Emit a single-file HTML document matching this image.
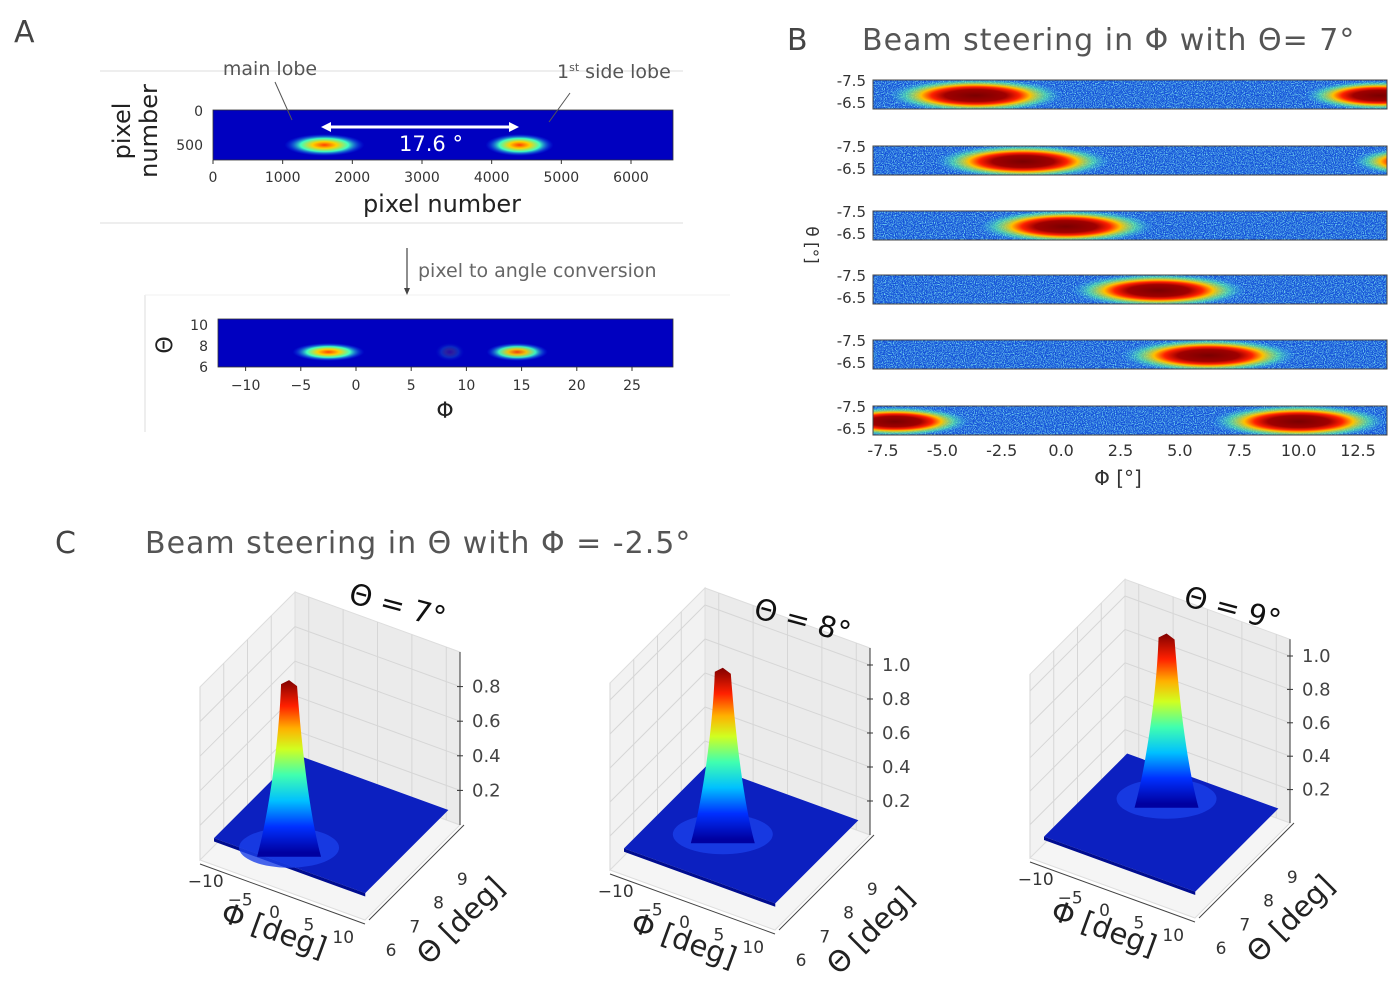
<!DOCTYPE html>
<html><head><meta charset="utf-8">
<style>
html,body{margin:0;padding:0;background:#fff;}
svg{display:block;font-family:"DejaVu Sans","Liberation Sans",sans-serif;}
</style></head>
<body>
<svg id="fig" width="1400" height="992" viewBox="0 0 1400 992" xmlns="http://www.w3.org/2000/svg">
<defs>
  <filter id="noise" x="0" y="0" width="100%" height="100%">
    <feTurbulence type="fractalNoise" baseFrequency="0.9" numOctaves="2" seed="4"/>
    <feColorMatrix values="0 0 0 0 0.25  0 0 0 0 0.9  0 0 0 0 0.9  3 0 0 0 -1.3"/>
  </filter>
  <radialGradient id="spot">
    <stop offset="0" stop-color="#7a0000"/>
    <stop offset="0.35" stop-color="#a00000"/>
    <stop offset="0.5" stop-color="#ff2000"/>
    <stop offset="0.62" stop-color="#ffc000"/>
    <stop offset="0.8" stop-color="#60ffa0" stop-opacity="0.6"/>
    <stop offset="1" stop-color="#30b0ff" stop-opacity="0"/>
  </radialGradient>
  <radialGradient id="spotA">
    <stop offset="0" stop-color="#ff4000"/>
    <stop offset="0.3" stop-color="#ffd000"/>
    <stop offset="0.6" stop-color="#40ffc0"/>
    <stop offset="1" stop-color="#0040ff" stop-opacity="0"/>
  </radialGradient>
  <marker id="ah" markerUnits="userSpaceOnUse" markerWidth="10" markerHeight="10" refX="5" refY="5" orient="auto-start-reverse"><path d="M0,0 L10,5 L0,10 z" fill="#fff"/></marker>
  <marker id="ahg" markerUnits="userSpaceOnUse" markerWidth="8" markerHeight="8" refX="4" refY="4" orient="auto"><path d="M0,1 L7,4 L0,7 z" fill="#444"/></marker>
</defs>
<g id="panelA"></g>
<g id="panelB"></g>
<g id="panelC"></g>
</svg>
<script>
// ---- Panel A data ----
const pixTicks = [0,1000,2000,3000,4000,5000,6000];
const lobePixels = [1600,4400];
const lobeIntensity = [1.0, 0.85];
const phiTicksA = [-10,-5,0,5,10,15,20,25];
const thetaTicksA = [10,8,6];
const lobePhi = [-2.5, 14.6, 8.5];
const lobePhiIntensity = [1.0, 0.85, 0.15];
// ---- Panel B data ----
const stripMainPhi = [-3.6, -1.6, 0.2, 4.1, 6.2, 10.0];
const sideLobeSpacing = 17.0;
const phiTicksB = [-7.5,-5.0,-2.5,0.0,2.5,5.0,7.5,10.0,12.5];
// ---- Panel C data ----
const plotTheta = [7, 8, 9];
const plotPeak = [1.04, 1.05, 1.06];
const peakPhi = [-2.5, -2.5, -2.5];
const zTicks1 = [0.2,0.4,0.6,0.8];
const zTicks23 = [0.2,0.4,0.6,0.8,1.0];
const phiTicksC = [-10,-5,0,5,10];
const thetaTicksC = [6,7,8,9];

const NS='http://www.w3.org/2000/svg';
function el(parent, tag, attrs, text){
  const e=document.createElementNS(NS,tag);
  for(const k in attrs) e.setAttribute(k,attrs[k]);
  if(text!==undefined) e.textContent=text;
  parent.appendChild(e); return e;
}
const A=document.getElementById('panelA'), B=document.getElementById('panelB'), C=document.getElementById('panelC');

// ================= Panel A =================
let t=el(A,'text',{x:14,y:42,'font-size':30,fill:'#444'},'A');


el(A,'line',{x1:100,y1:71,x2:683,y2:71,stroke:'#ddd'});
el(A,'line',{x1:100,y1:223,x2:683,y2:223,stroke:'#ddd'});
el(A,'line',{x1:145,y1:295,x2:145,y2:432,stroke:'#ddd'});
el(A,'line',{x1:145,y1:295,x2:730,y2:295,stroke:'#f0f0f0'});
const pxX = p => 213 + p*(631-213)/6000;
let hm=el(A,'g',{});


el(hm,'rect',{x:213,y:110,width:460,height:50,fill:'#0000c0'});
lobePixels.forEach((p,i)=>{
  const s=el(hm,'ellipse',{cx:pxX(p),cy:145,rx:40*lobeIntensity[i],ry:11,fill:'url(#spotA)'});
  
  
});
el(hm,'rect',{x:213,y:110,width:460,height:50,fill:'none',stroke:'#333','stroke-width':0.8});
pixTicks.forEach(v=>{
  el(A,'line',{x1:pxX(v),y1:160,x2:pxX(v),y2:164,stroke:'#333'});
  const tt=el(A,'text',{x:pxX(v),y:182,'text-anchor':'middle','font-size':14,fill:'#333'},String(v));
  
  
});
el(A,'text',{x:203,y:116,'text-anchor':'end','font-size':14,fill:'#333'},'0');
el(A,'text',{x:203,y:150,'text-anchor':'end','font-size':14,fill:'#333'},'500');
let yl=el(A,'text',{transform:'translate(130,131) rotate(-90)','text-anchor':'middle','font-size':24,fill:'#222'});


el(yl,'tspan',{x:0,y:0},'pixel');
el(yl,'tspan',{x:0,y:27},'number');
let xl=el(A,'text',{x:442,y:212,'text-anchor':'middle','font-size':24,fill:'#222'},'pixel number');


el(A,'line',{x1:326,y1:127,x2:514,y2:127,stroke:'#fff','stroke-width':3,'marker-start':'url(#ah)','marker-end':'url(#ah)'});
el(A,'text',{x:431,y:151,'text-anchor':'middle','font-size':21,fill:'#fff'},'17.6 °');
el(A,'text',{x:270,y:75,'text-anchor':'middle','font-size':19,fill:'#555'},'main lobe');
el(A,'line',{x1:275,y1:82,x2:292,y2:120,stroke:'#555'});
let sl=el(A,'text',{x:557,y:78,'font-size':19,fill:'#555'});
el(sl,'tspan',{},'1');
el(sl,'tspan',{'font-size':11,dy:-7},'st');
el(sl,'tspan',{dy:7},' side lobe');
el(A,'line',{x1:570,y1:93,x2:549,y2:122,stroke:'#555'});
el(A,'line',{x1:407,y1:248,x2:407,y2:292,stroke:'#444','stroke-width':1.2,'marker-end':'url(#ahg)'});
el(A,'text',{x:418,y:277,'font-size':19,fill:'#666'},'pixel to angle conversion');
const phA = p => 356 + p*(632-356)/25;
let hm2=el(A,'g',{});


el(hm2,'rect',{x:218,y:319,width:455,height:48,fill:'#0000c0'});
lobePhi.forEach((p,i)=>{
  const s=el(hm2,'ellipse',{cx:phA(p),cy:352,rx:36*Math.max(lobePhiIntensity[i],0.4),ry:9,fill:'url(#spotA)',opacity:Math.min(1,lobePhiIntensity[i]*1.1)});
  
  
});
el(hm2,'rect',{x:218,y:319,width:455,height:48,fill:'none',stroke:'#333','stroke-width':0.8});
phiTicksA.forEach(v=>{
  el(A,'line',{x1:phA(v),y1:367,x2:phA(v),y2:371,stroke:'#333'});
  const tt=el(A,'text',{x:phA(v),y:390,'text-anchor':'middle','font-size':14,fill:'#333'},v<0?'\u2212'+(-v):String(v));
  
  
});
thetaTicksA.forEach((v,i)=>{
  el(A,'text',{x:208,y:330+i*21,'text-anchor':'end','font-size':14,fill:'#333'},String(v));
});
el(A,'text',{x:165,y:352,'text-anchor':'middle','font-size':22,fill:'#222',transform:'rotate(-90 165 345)'},'Θ');
el(A,'text',{x:445,y:418,'text-anchor':'middle','font-size':22,fill:'#222'},'Φ');

// ================= Panel B =================
el(B,'text',{x:787,y:50,'font-size':30,fill:'#444'},'B');
let bt=el(B,'text',{x:862,y:50,'font-size':30,fill:'#555','letter-spacing':1},'Beam steering in Φ with Θ= 7°');


const bx0=873,bx1=1387;
const phB = p => 883 + (p+7.5)*(1358-883)/20;
const stripTops=[80,146,211,275,340,406];
stripMainPhi.forEach((p,i)=>{
  const y=stripTops[i], h=29;
  const g=el(B,'g',{});
  
  
  const cp=el(g,'clipPath',{id:'cs'+i});
  el(cp,'rect',{x:bx0,y:y,width:bx1-bx0,height:h});
  const inner=el(g,'g',{'clip-path':'url(#cs'+i+')'});
  el(inner,'rect',{x:bx0,y:y,width:bx1-bx0,height:h,fill:'#1450d8'});
  el(inner,'rect',{x:bx0,y:y,width:bx1-bx0,height:h,filter:'url(#noise)',opacity:0.9});
  [p, p-sideLobeSpacing, p+sideLobeSpacing].forEach((c,j)=>{
    const s=el(inner,'ellipse',{cx:phB(c),cy:y+h/2+1,rx:j===0?88:75,ry:j===0?17:15,fill:'url(#spot)'});
    
    
  });
  el(g,'rect',{x:bx0,y:y,width:bx1-bx0,height:h,fill:'none',stroke:'#444','stroke-width':1});
  el(B,'text',{x:866,y:y+6,'text-anchor':'end','font-size':15,fill:'#333'},'-7.5');
  el(B,'text',{x:866,y:y+28,'text-anchor':'end','font-size':15,fill:'#333'},'-6.5');
});
phiTicksB.forEach(v=>{
  const tt=el(B,'text',{x:phB(v),y:456,'text-anchor':'middle','font-size':16,fill:'#333'},v.toFixed(1));
  
  
});
el(B,'text',{x:1118,y:485,'text-anchor':'middle','font-size':20,fill:'#333'},'Φ [°]');
el(B,'text',{x:0,y:0,'text-anchor':'middle','font-size':17,fill:'#333',transform:'translate(806,245) rotate(90)'},'θ [°]');

// ================= Panel C =================
el(C,'text',{x:55,y:553,'font-size':30,fill:'#444'},'C');
let ct=el(C,'text',{x:145,y:553,'font-size':30,fill:'#555','letter-spacing':1},'Beam steering in Θ with Φ = -2.5°');


const jet=[[0,'#0000a0'],[0.15,'#0030ff'],[0.3,'#00c0ff'],[0.45,'#40ffb0'],[0.6,'#d0ff20'],[0.72,'#ffb000'],[0.85,'#ff2000'],[1,'#800000']];
const origins=[[200,860],[610,870],[1030,858]];
const titlesPos=[[395,615],[800,630],[1230,618]];
const zScale=[173,170,167];
for(let k=0;k<3;k++){
  const [ox,oy]=origins[k];
  const zs=zScale[k];
  const P=(p,th,z)=>[ox+(p+12)*6.875+(th-6)*23.75, oy+(p+12)*2.5-(th-6)*23.75 - z*zs];
  const g=el(C,'g',{});
  
  
  const poly=(pts,attrs)=>el(g,'polygon',Object.assign({points:pts.map(q=>q.join(',')).join(' ')},attrs));
  const zmax=k===0?1.0:1.1;
  poly([P(-12,6,0),P(-12,10,0),P(-12,10,zmax),P(-12,6,zmax)],{fill:'#f2f2f2',stroke:'#ddd'});
  poly([P(-12,10,0),P(12,10,0),P(12,10,zmax),P(-12,10,zmax)],{fill:'#ebebeb',stroke:'#ddd'});
  poly([P(-12,6,0),P(12,6,0),P(12,10,0),P(-12,10,0)],{fill:'#f5f5f5',stroke:'#ddd'});
  for(let z=0.2;z<zmax;z+=0.2){
    el(g,'polyline',{points:[P(-12,6,z),P(-12,10,z),P(12,10,z)].map(q=>q.join(',')).join(' '),fill:'none',stroke:'#d6d6d6'});
  }
  phiTicksC.forEach(v=>{const a=P(v,10,0),b=P(v,10,zmax);el(g,'line',{x1:a[0],y1:a[1],x2:b[0],y2:b[1],stroke:'#d6d6d6'});});
  thetaTicksC.forEach(v=>{const a=P(-12,v,0),b=P(-12,v,zmax);el(g,'line',{x1:a[0],y1:a[1],x2:b[0],y2:b[1],stroke:'#d6d6d6'});});
  const fl=poly([P(-11,6.3,0.1),P(11,6.3,0.1),P(11,9.8,0.1),P(-11,9.8,0.1)],{fill:'#0c20c0'});
  
  
  poly([P(-11,6.3,0.1),P(11,6.3,0.1),P(11,6.3,0.08),P(-11,6.3,0.08)],{fill:'#000c90'});
  const base=P(peakPhi[k],plotTheta[k],0.1), top=P(peakPhi[k],plotTheta[k],plotPeak[k]);
  const gid='jet'+k;
  const lg=el(g,'linearGradient',{id:gid,gradientUnits:'userSpaceOnUse',x1:0,y1:base[1]+10,x2:0,y2:top[1]});
  jet.forEach(s=>el(lg,'stop',{offset:s[0],'stop-color':s[1]}));
  el(g,'ellipse',{cx:base[0],cy:base[1]+5,rx:50,ry:20,fill:'#1a40e8',opacity:0.8});
  const pk=el(g,'path',{d:`M${base[0]-32},${base[1]+14} C${base[0]-20},${base[1]-30} ${top[0]-10},${top[1]+60} ${top[0]-8},${top[1]+4} L${top[0]},${top[1]} L${top[0]+8},${top[1]+6} C${top[0]+12},${top[1]+60} ${base[0]+20},${base[1]-30} ${base[0]+32},${base[1]+14} Z`,fill:`url(#${gid})`});
  
  
  const za=P(12,10,0), zb=P(12,10,zmax);
  el(g,'line',{x1:za[0],y1:za[1],x2:zb[0],y2:zb[1],stroke:'#333'});
  (k===0?zTicks1:zTicks23).forEach(v=>{
    const q=P(12,10,v);
    el(g,'line',{x1:q[0]-3,y1:q[1],x2:q[0]+3,y2:q[1],stroke:'#333'});
    const tt=el(g,'text',{x:q[0]+12,y:q[1]+6,'font-size':18,fill:'#444'},v.toFixed(1));
    
    
  });
  const pa=P(-12,6,0),pb=P(12,6,0);
  el(g,'line',{x1:pa[0],y1:pa[1]+4,x2:pb[0],y2:pb[1]+4,stroke:'#444'});
  phiTicksC.forEach((v,i)=>{
    const q=P(v,6,0);
    el(g,'text',{x:q[0]-8,y:q[1]+28+(i===0?-6:0),'text-anchor':'middle','font-size':17,fill:'#333'},v<0?'\u2212'+(-v):String(v));
  });
  const ta=P(12,6,0),tb=P(12,10,0);
  el(g,'line',{x1:ta[0]+4,y1:ta[1],x2:tb[0]+4,y2:tb[1],stroke:'#444'});
  thetaTicksC.forEach(v=>{
    const q=P(12,v,0);
    el(g,'text',{x:q[0]+26,y:q[1]+36,'text-anchor':'middle','font-size':17,fill:'#333'},String(v));
  });
  const pl=P(-1,6,0);
  el(g,'text',{x:pl[0]-5,y:pl[1]+52,'text-anchor':'middle','font-size':29,fill:'#222',transform:`rotate(20 ${pl[0]-5} ${pl[1]+52})`},'Φ [deg]');
  const tl=P(12,8,0);
  el(g,'text',{x:tl[0]+55,y:tl[1]+55,'text-anchor':'middle','font-size':29,fill:'#222',transform:`rotate(-45 ${tl[0]+55} ${tl[1]+55})`},'Θ [deg]');
  const [tx,ty]=titlesPos[k];
  const tt=el(g,'text',{x:tx,y:ty,'text-anchor':'middle','font-size':29,fill:'#111',transform:`rotate(15 ${tx} ${ty})`},'Θ = '+plotTheta[k]+'°');
  
  
}
</script>
</body></html>
